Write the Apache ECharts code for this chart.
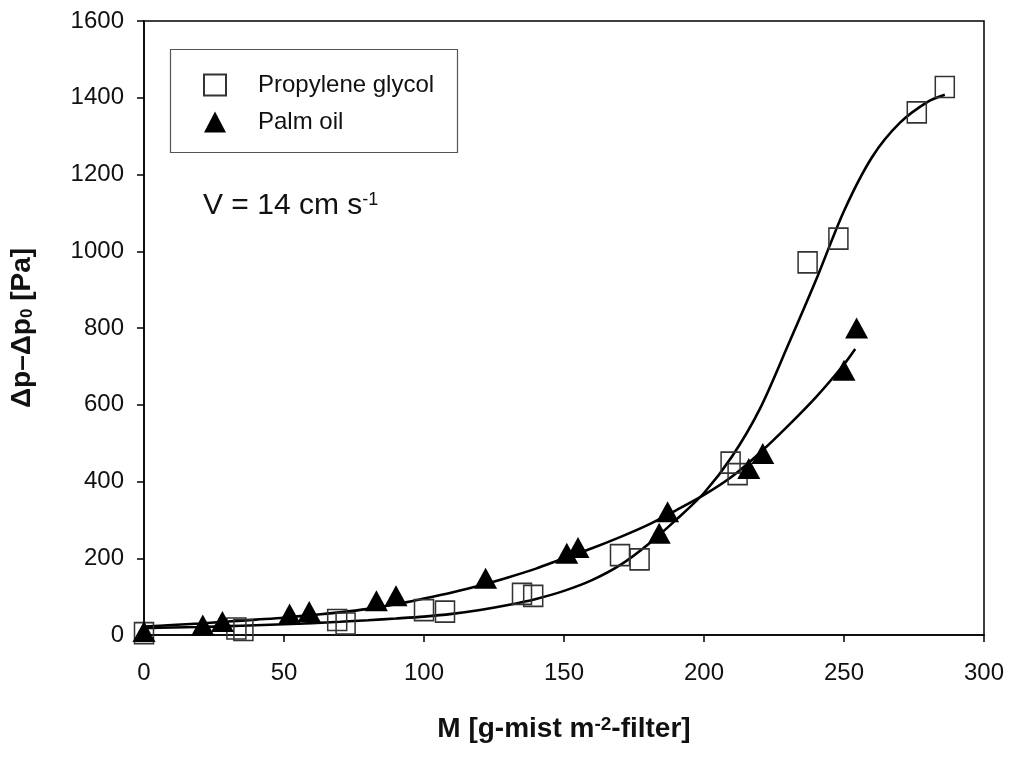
<!DOCTYPE html>
<html>
<head>
<meta charset="utf-8">
<script src="https://cdn.jsdelivr.net/npm/echarts@6/dist/echarts.min.js"></script>
<style>
html,body{margin:0;padding:0;background:#fff;}
#chart{width:1010px;height:760px;}
</style>
</head>
<body>
<div id="chart"></div>
<script>
// Propylene glycol measurements (squares)
const pgM  = [0, 33, 35.5, 69, 72, 100, 107.5, 135, 139, 170, 177, 209.5, 212, 237, 248, 276, 286];
const pgDP = [5, 17, 13, 39, 30, 65, 61, 107, 102, 208, 197, 449, 419, 971, 1033, 1362, 1428];
// Palm oil measurements (triangles)
const palmM  = [0, 21, 28, 52, 59, 83, 90, 122, 151, 155, 184, 187, 216, 221, 250, 254.5];
const palmDP = [9, 26, 35, 55, 61, 89, 102, 148, 213, 228, 265, 321, 434, 473, 690, 800];
// Fitted curves
const pgFitM  = [0, 10, 20, 30, 40, 50, 60, 70, 80, 90, 100, 110, 120, 130, 140, 150, 160, 170, 180, 190, 200, 210, 220, 230, 240, 250, 260, 270, 280, 286];
const pgFitDP = [18, 19.5, 21, 23, 25.5, 28, 31, 34.5, 38.5, 43, 48, 55, 65, 78, 94, 115, 143, 182, 236, 300, 370, 465, 590, 755, 925, 1105, 1245, 1335, 1390, 1408];
const palmFitM  = [0, 10, 20, 30, 40, 50, 60, 70, 80, 90, 100, 110, 120, 130, 140, 150, 160, 170, 180, 190, 200, 210, 220, 230, 240, 250, 254];
const palmFitDP = [22, 26, 30, 35, 40, 45, 52, 59, 68, 80, 95, 111, 129, 150, 173, 200, 226, 255, 287, 325, 365, 413, 475, 545, 620, 705, 745];

const seriesNames = ['Propylene glycol', 'Palm oil'];
const xTitle = 'M [g-mist m{sup|-2}-filter]';
const yTitle = '{a|\u0394p\u2013\u0394p}{sub|0}{a| [Pa]}';
const noteText = '{a|V = 14 cm s}{sup|-1}';

const zip = (xs, ys) => xs.map((x, i) => [x, ys[i]]);
const FONT = 'Liberation Sans, Arial, Helvetica, sans-serif';

const chart = echarts.init(document.getElementById('chart'), null, {renderer: 'canvas'});
chart.setOption({
  animation: false,
  backgroundColor: '#fff',
  grid: {left: 144, right: 26, top: 21, bottom: 125, show: true, borderColor: '#000', borderWidth: 1.5},
  title: {
    text: noteText, left: 198, top: 186,
    textStyle: {
      fontFamily: FONT, color: '#111', fontWeight: 'normal',
      rich: {
        a: {fontSize: 30, fontFamily: FONT, fontWeight: 'normal', color: '#111'},
        sup: {fontSize: 18, fontFamily: FONT, fontWeight: 'normal', color: '#111', verticalAlign: 'top'}
      }
    }
  },
  graphic: [{
    type: 'rect', silent: true, z: 1,
    shape: {x: 170.5, y: 49.5, width: 287, height: 103},
    style: {fill: '#fff', stroke: '#555', lineWidth: 1.2}
  }],
  legend: {
    data: seriesNames,
    orient: 'vertical',
    left: 203, top: 73,
    padding: 0,
    itemWidth: 22, itemHeight: 21,
    itemGap: 13,
    z: 5,
    textStyle: {fontFamily: FONT, fontSize: 24, color: '#111', padding: [0, 0, 0, 27]}
  },
  xAxis: {
    type: 'value', min: 0, max: 300, interval: 50,
    name: xTitle, nameLocation: 'middle', nameGap: 80,
    nameTextStyle: {
      fontFamily: FONT, fontSize: 28, fontWeight: 'bold', color: '#111',
      rich: {
        sup: {fontSize: 19, fontWeight: 'bold', fontFamily: FONT, color: '#111', verticalAlign: 'top'}
      }
    },
    axisLine: {show: true, lineStyle: {color: '#000', width: 1.5}},
    axisTick: {show: true, inside: false, length: 7, lineStyle: {color: '#000', width: 1.5}},
    axisLabel: {fontFamily: FONT, fontSize: 24, color: '#111', margin: 26, formatter: v => String(v)},
    splitLine: {show: false}
  },
  yAxis: {
    type: 'value', min: 0, max: 1600, interval: 200,
    name: yTitle, nameLocation: 'middle', nameGap: 108, nameRotate: 90,
    nameTextStyle: {
      rich: {
        a: {fontSize: 28, fontWeight: 'bold', fontFamily: FONT, color: '#111'},
        sub: {fontSize: 17, fontWeight: 'bold', fontFamily: FONT, color: '#111', verticalAlign: 'bottom'}
      }
    },
    axisLine: {show: true, lineStyle: {color: '#000', width: 1.5}},
    axisTick: {show: true, inside: false, length: 7, lineStyle: {color: '#000', width: 1.5}},
    axisLabel: {fontFamily: FONT, fontSize: 24, color: '#111', margin: 20, formatter: v => String(v)},
    splitLine: {show: false}
  },
  series: [
    {
      name: 'pgFit', type: 'line', data: zip(pgFitM, pgFitDP),
      smooth: 0.3, showSymbol: false, silent: true,
      lineStyle: {color: '#000', width: 2.6}, z: 2
    },
    {
      name: 'palmFit', type: 'line', data: zip(palmFitM, palmFitDP),
      smooth: 0.3, showSymbol: false, silent: true,
      lineStyle: {color: '#000', width: 2.6}, z: 2
    },
    {
      name: seriesNames[0], type: 'scatter', data: zip(pgM, pgDP),
      symbol: 'rect', symbolSize: [19, 21],
      itemStyle: {color: 'rgba(255,255,255,0)', borderColor: '#333', borderWidth: 1.6, opacity: 1},
      z: 3
    },
    {
      name: seriesNames[1], type: 'scatter', data: zip(palmM, palmDP),
      symbol: 'triangle', symbolSize: [23, 21],
      itemStyle: {color: '#000', opacity: 1},
      z: 4
    }
  ]
});
</script>
</body>
</html>
